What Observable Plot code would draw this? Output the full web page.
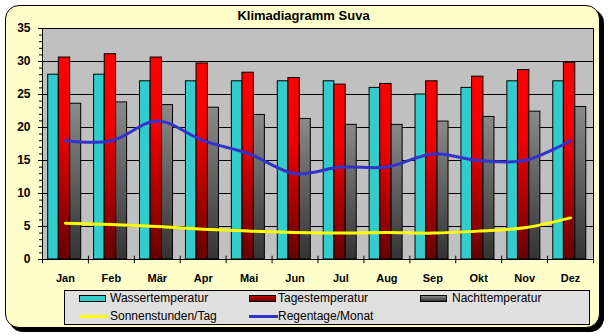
<!DOCTYPE html>
<html><head><meta charset="utf-8">
<script src="https://cdn.jsdelivr.net/npm/d3@7"></script>
<script src="https://cdn.jsdelivr.net/npm/@observablehq/plot@0.6"></script>
<style>
body{margin:0;background:#fff;font-family:"Liberation Sans",Arial,sans-serif;}
#wrap{position:relative;width:609px;height:336px;overflow:hidden;}
#frame{position:absolute;left:5px;top:5px;width:595px;height:323px;box-sizing:border-box;border:1px solid #000;border-radius:14px;background:#FFFFCC;box-shadow:4px 4px 0 0 #000;}
#title{position:absolute;left:0;width:607px;top:7px;text-align:center;font-weight:bold;font-size:13px;line-height:18px;color:#000;}
#chart{position:absolute;left:0;top:20px;}
#legend{position:absolute;left:64px;top:290px;width:526px;height:35px;box-sizing:border-box;border:1px solid #000;background:#E0E0E0;}
.sw{position:absolute;box-sizing:border-box;}
.lt{position:absolute;font-size:12px;line-height:14px;white-space:nowrap;color:#000;}
</style></head>
<body>
<div id="wrap">
  <div id="frame"></div>
  <div id="title"></div>
  <div id="chart"></div>
  <div id="legend"></div>
</div>
<script>
const titleText = "Klimadiagramm Suva";
const months = ["Jan","Feb","Mär","Apr","Mai","Jun","Jul","Aug","Sep","Okt","Nov","Dez"];
const wasser = [28,28,27,27,27,27,27,26,25,26,27,27];
const tages  = [30.6,31.1,30.6,29.7,28.3,27.5,26.5,26.6,27,27.7,28.7,29.8];
const nacht  = [23.6,23.8,23.4,23.0,21.9,21.3,20.4,20.4,20.9,21.6,22.4,23.1];
const sonne  = [5.5,5.3,5.0,4.6,4.3,4.1,4.0,4.1,4.0,4.3,4.8,6.3];
const regen  = [18,18,21,18,16,13,14,14,16,15,15,18];
const seriesNames = ["Wassertemperatur","Tagestemperatur","Nachttemperatur","Sonnenstunden/Tag","Regentage/Monat"];
const yTicks = [0,5,10,15,20,25,30,35];

document.getElementById("title").textContent = titleText;

const W = 609, H = 270, mL = 42, mR = 16;
const bw = (W - mL - mR) / 12;
const rows = months.map((m,i)=>({m, w:wasser[i], t:tages[i], n:nacht[i], s:sonne[i], r:regen[i]}));

const defs = () => {
  const d = d3.create("svg:defs");
  const g1 = d.append("linearGradient").attr("id","gRed").attr("x1",0).attr("y1",0).attr("x2",0).attr("y2",1);
  g1.append("stop").attr("offset","0%").attr("stop-color","#FF0000");
  g1.append("stop").attr("offset","35%").attr("stop-color","#F00000");
  g1.append("stop").attr("offset","100%").attr("stop-color","#660000");
  const g2 = d.append("linearGradient").attr("id","gGray").attr("x1",0).attr("y1",0).attr("x2",0).attr("y2",1);
  g2.append("stop").attr("offset","0%").attr("stop-color","#8A8A8A");
  g2.append("stop").attr("offset","100%").attr("stop-color","#333333");
  return d.node();
};

const chart = Plot.plot({
  width: W, height: H, marginLeft: mL, marginRight: mR, marginTop: 8, marginBottom: 31,
  style: {background: "transparent", fontFamily: "'Liberation Sans',Arial,sans-serif", overflow: "visible", color: "#000"},
  x: {type: "band", domain: months, padding: 0, round: false, label: null},
  y: {domain: [0, 35], label: null},
  marks: [
    defs,
    Plot.frame({fill: "#C0C0C0"}),
    Plot.gridY(yTicks, {stroke: "#000", strokeOpacity: 1}),
    Plot.barY(rows, {x: "m", y: "w", fill: "#33CCCC", stroke: "#000", insetLeft: 5.7, insetRight: bw - 16.3}),
    Plot.barY(rows, {x: "m", y: "t", fill: "url(#gRed)", stroke: "#000", insetLeft: 16.3, insetRight: bw - 27.7}),
    Plot.barY(rows, {x: "m", y: "n", fill: "url(#gGray)", stroke: "#000", insetLeft: 27.7, insetRight: bw - 38.7}),
    Plot.lineY(rows, {x: "m", y: "s", stroke: "#FFFF00", strokeWidth: 3, curve: "catmull-rom"}),
    Plot.lineY(rows, {x: "m", y: "r", stroke: "#3333CC", strokeWidth: 3, curve: "catmull-rom"}),
    Plot.frame({stroke: "#000"}),
    Plot.axisY(d3.range(0, 36, 1), {tickSize: 3, text: null, label: null}),
    Plot.axisY(yTicks, {tickSize: 4, tickPadding: 8, fontWeight: "bold", fontSize: 12, label: null}),
    Plot.axisX({tickSize: 0, tickPadding: 15, fontWeight: "bold", fontSize: 11, label: null}),
    Plot.ruleX(months, {x: d => d, dx: -bw/2, y1: 0.5, y2: -0.65, stroke: "#000"}),
    Plot.ruleX(months.slice(-1), {x: d => d, dx: bw/2, y1: 0.5, y2: -0.65, stroke: "#000"})
  ]
});
document.getElementById("chart").appendChild(chart);

// legend
const lg = document.getElementById("legend");
const items = [
  {name: seriesNames[0], kind: "rect", bg: "#33CCCC", sx: 14, tx: 45, cy: 7},
  {name: seriesNames[1], kind: "rect", bg: "linear-gradient(#CC0000,#660000)", sx: 184, tx: 213, cy: 7},
  {name: seriesNames[2], kind: "rect", bg: "linear-gradient(#888888,#333333)", sx: 355, tx: 387, cy: 7},
  {name: seriesNames[3], kind: "line", bg: "#FFFF00", sx: 14, tx: 45, cy: 25},
  {name: seriesNames[4], kind: "line", bg: "#3333CC", sx: 184, tx: 213, cy: 25}
];
for (const it of items) {
  const s = document.createElement("div");
  s.className = "sw";
  if (it.kind === "rect") {
    Object.assign(s.style, {left: it.sx + "px", top: (it.cy - 3.5) + "px", width: "27px", height: "7px", border: "1px solid #000", background: it.bg});
  } else {
    Object.assign(s.style, {left: it.sx + "px", top: (it.cy - 1.5) + "px", width: "29px", height: "3px", background: it.bg});
  }
  lg.appendChild(s);
  const t = document.createElement("div");
  t.className = "lt";
  t.textContent = it.name;
  Object.assign(t.style, {left: it.tx + "px", top: (it.cy - 7) + "px"});
  lg.appendChild(t);
}
</script>
</body></html>
